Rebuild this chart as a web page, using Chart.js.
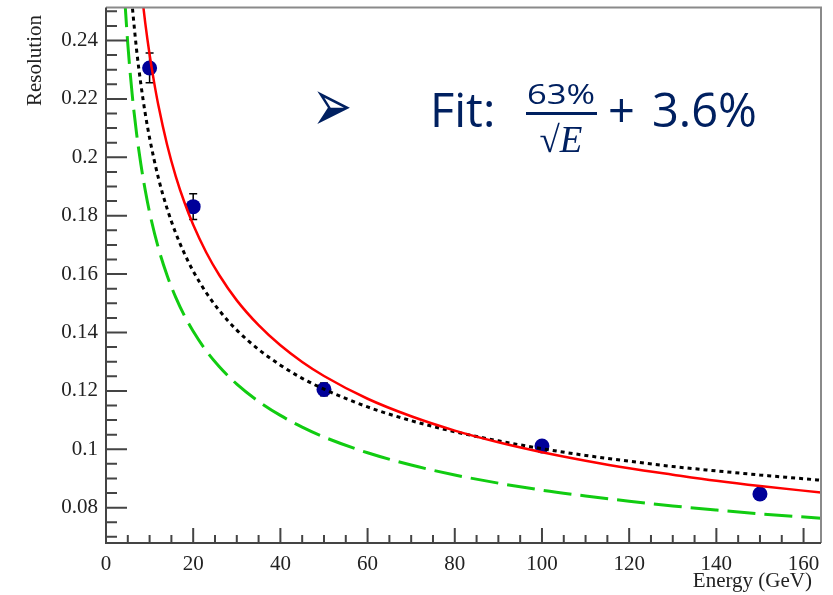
<!DOCTYPE html>
<html>
<head>
<meta charset="utf-8">
<script src="https://cdn.jsdelivr.net/npm/chart.js@4.4.1/dist/chart.umd.min.js"></script>
<style>
  body { margin: 0; background: #fff; }
  #wrap { position: relative; width: 833px; height: 595px; }
  .ann { position: absolute; color: #002060; line-height: 1; white-space: nowrap; }
  #arrow { left: 312px; top: 80px; font: 48px "DejaVu Sans"; transform: scaleY(1.55); transform-origin: 50% 62%; }
  #fitLabel { left: 430px; top: 77px; font: 47px "Open Sans"; }
  #num { left: 521px; top: 75px; width: 80px; text-align: center; font: 27px "Open Sans"; transform: scaleX(1.28); }
  #bar { left: 526px; top: 112px; width: 71px; height: 3px; background: #002060; }
  #den { left: 521px; top: 118px; width: 80px; text-align: center; font: 37px "Liberation Serif"; }
  #den i { font-family: "Liberation Serif"; }
  #plus { left: 608px; top: 77px; font: 47px "Open Sans"; }
  #const { left: 652px; top: 77px; font: 47px "Open Sans"; }
</style>
</head>
<body>
<div id="wrap">
  <canvas id="chartRes" width="833" height="595"></canvas>
  <div class="ann" id="arrow">➢</div>
  <div class="ann" id="fitLabel">Fit:</div>
  <div class="ann" id="num">63%</div>
  <div class="ann" id="bar"></div>
  <div class="ann" id="den">√<i>E</i></div>
  <div class="ann" id="plus">+</div>
  <div class="ann" id="const">3.6%</div>
</div>
<script>
// tick labels
const xTicks = [0, 20, 40, 60, 80, 100, 120, 140, 160];
const yTicks = [0.08, 0.1, 0.12, 0.14, 0.16, 0.18, 0.2, 0.22, 0.24];

// measured points
const energy = [10, 20, 50, 100, 150];
const resolution = [0.2306, 0.1831, 0.1205, 0.1011, 0.0847];
const resolutionErr = [0.0051, 0.0044, 0.0022, 0.0015, 0.0012];

// red solid curve (fit)
const fitE = [8, 9, 10, 11, 12, 14, 16, 18, 20, 23, 26, 30, 35, 40, 45, 50, 60, 70, 80, 90, 100, 110, 120, 130, 140, 150, 164];
const fitRes = [0.2588, 0.246, 0.2352, 0.226, 0.2179, 0.2044, 0.1935, 0.1845, 0.1769, 0.1674, 0.1596, 0.151, 0.1425, 0.1356,
  0.1299, 0.1251, 0.1173, 0.1113, 0.1064, 0.1024, 0.099, 0.0961, 0.0935, 0.0913, 0.0892, 0.0874, 0.0852];

// black dotted curve
const dotE = [5.9, 7, 8, 9, 10, 12, 14, 16, 18, 20, 23, 26, 30, 35, 40, 45, 50, 60, 70, 80, 90, 100, 110, 120, 130, 140, 150, 164];
const dotRes = [0.2536, 0.237, 0.225, 0.215, 0.2066, 0.193, 0.1825, 0.174, 0.167, 0.161, 0.1536, 0.1475, 0.1408, 0.1342, 0.1288,
  0.1243, 0.1206, 0.1145, 0.1098, 0.106, 0.1029, 0.1002, 0.0979, 0.0959, 0.0941, 0.0926, 0.0912, 0.0894];

// green dashed curve
const dashE = [4.3, 5, 6, 7, 8, 9, 10, 12, 14, 16, 18, 20, 23, 26, 30, 35, 40, 45, 50, 60, 70, 80, 90, 100, 110, 120, 130, 140, 150, 164];
const dashRes = [0.2542, 0.2388, 0.2216, 0.2083, 0.1976, 0.1887, 0.1811, 0.169, 0.1596, 0.152, 0.1457, 0.1404, 0.1337, 0.1283,
  0.1223, 0.1164, 0.1116, 0.1076, 0.1042, 0.0988, 0.0946, 0.0912, 0.0884, 0.086, 0.084, 0.0822, 0.0806, 0.0792, 0.0779, 0.0764];

const toXY = (xs, ys) => xs.map((v, i) => ({ x: v, y: ys[i] }));
const axisFont = { family: 'Liberation Serif', size: 21 };

// ROOT style frame: inward ticks, grey top/right border, error bars, axis titles
const rootFrame = {
  id: 'rootFrame',
  beforeDatasetsDraw(chart) {
    const { ctx, scales: { x, y } } = chart;
    ctx.save();
    ctx.strokeStyle = '#000';
    ctx.lineWidth = 1.5;
    energy.forEach((e, i) => {
      const px = x.getPixelForValue(e);
      const top = y.getPixelForValue(resolution[i] + resolutionErr[i]);
      const bot = y.getPixelForValue(resolution[i] - resolutionErr[i]);
      ctx.beginPath();
      ctx.moveTo(px, top); ctx.lineTo(px, bot);
      ctx.moveTo(px - 4, top); ctx.lineTo(px + 4, top);
      ctx.moveTo(px - 4, bot); ctx.lineTo(px + 4, bot);
      ctx.stroke();
    });
    ctx.restore();
  },
  afterDraw(chart) {
    const { ctx, chartArea: a, scales: { x, y } } = chart;
    ctx.save();
    ctx.lineWidth = 2;
    ctx.strokeStyle = '#8a8a8a';
    ctx.beginPath();
    ctx.moveTo(a.left, a.top); ctx.lineTo(a.right, a.top); ctx.lineTo(a.right, a.bottom);
    ctx.stroke();

    ctx.strokeStyle = '#444';
    ctx.beginPath();
    ctx.moveTo(a.left, a.top); ctx.lineTo(a.left, a.bottom); ctx.lineTo(a.right, a.bottom);
    // y ticks every 0.005, major every 0.02
    for (let k = Math.ceil(y.min / 0.005); k * 0.005 <= y.max; k++) {
      const py = y.getPixelForValue(k * 0.005);
      ctx.moveTo(a.left, py);
      ctx.lineTo(a.left + (k % 4 === 0 ? 21 : 11), py);
    }
    // x ticks every 5, major every 20
    for (let k = 1; k * 5 <= x.max; k++) {
      const px = x.getPixelForValue(k * 5);
      ctx.moveTo(px, a.bottom);
      ctx.lineTo(px, a.bottom - (k % 4 === 0 ? 15 : 8));
    }
    ctx.stroke();

    ctx.fillStyle = '#222';
    ctx.font = '21px "Liberation Serif"';
    ctx.textBaseline = 'alphabetic';
    ctx.textAlign = 'right';
    ctx.fillText('Energy (GeV)', 812, 587);
    ctx.translate(41, 15);
    ctx.rotate(-Math.PI / 2);
    ctx.fillText('Resolution', 0, 0);
    ctx.restore();
  }
};

const chartRef = document.querySelector('#chartRes');

chartRef.chart = new Chart(chartRef, {
  type: 'scatter',
  data: {
    datasets: [
      {
        label: 'fit',
        data: toXY(fitE, fitRes),
        showLine: true,
        borderColor: '#ff0000',
        borderWidth: 2.5,
        pointRadius: 0,
        cubicInterpolationMode: 'monotone',
        clip: 0
      },
      {
        label: 'dotted',
        data: toXY(dotE, dotRes),
        showLine: true,
        borderColor: '#000000',
        borderWidth: 3,
        borderDash: [4, 4],
        pointRadius: 0,
        cubicInterpolationMode: 'monotone',
        clip: 0
      },
      {
        label: 'dashed',
        data: toXY(dashE, dashRes),
        showLine: true,
        borderColor: '#11cc11',
        borderWidth: 3,
        borderDash: [28, 9],
        pointRadius: 0,
        cubicInterpolationMode: 'monotone',
        clip: 0
      },
      {
        label: 'data',
        data: toXY(energy, resolution),
        showLine: false,
        backgroundColor: '#000099',
        borderWidth: 0,
        pointRadius: 7.5,
        pointHoverRadius: 7.5
      }
    ]
  },
  options: {
    responsive: false,
    animation: false,
    devicePixelRatio: 1,
    layout: { padding: { top: 6, right: 12, left: 0, bottom: 0 } },
    plugins: { legend: { display: false }, tooltip: { enabled: false } },
    scales: {
      x: {
        type: 'linear',
        min: 0,
        max: 164,
        grid: { display: false, drawTicks: false },
        border: { display: false },
        afterBuildTicks: s => { s.ticks = xTicks.map(v => ({ value: v })); },
        afterFit: s => { s.height = 52; s.paddingLeft = 0; s.paddingRight = 0; },
        ticks: {
          padding: 9,
          maxRotation: 0,
          color: '#222',
          font: axisFont,
          callback: v => String(v)
        }
      },
      y: {
        type: 'linear',
        min: 0.0679,
        max: 0.2513,
        grid: { display: false, drawTicks: false },
        border: { display: false },
        afterBuildTicks: s => { s.ticks = yTicks.map(v => ({ value: v })); },
        afterFit: s => { s.width = 106; s.paddingTop = 0; s.paddingBottom = 0; },
        ticks: {
          padding: 8,
          color: '#222',
          font: axisFont,
          callback: v => String(+v.toFixed(3))
        }
      }
    }
  },
  plugins: [rootFrame]
});
</script>
</body>
</html>
